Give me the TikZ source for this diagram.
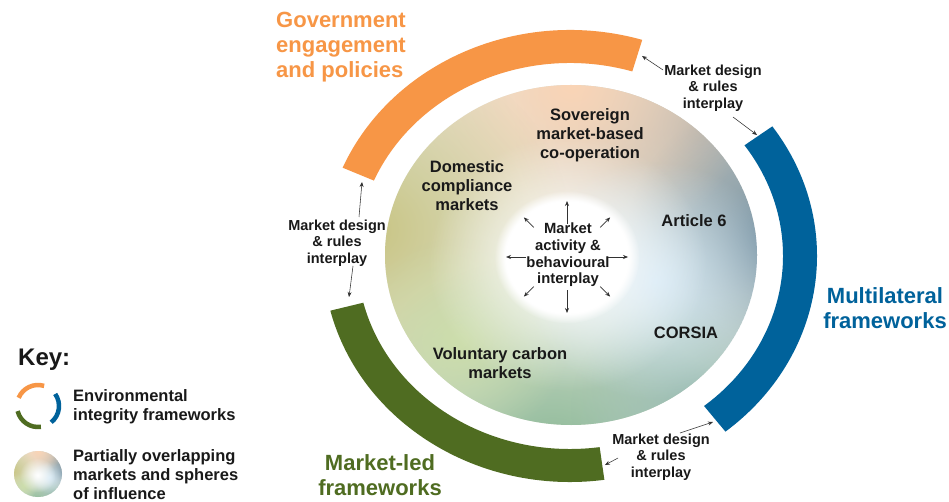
\documentclass[tikz,border=0pt]{standalone}
\usepackage{fontspec}
\setmainfont{Liberation Sans}
\usetikzlibrary{calc,arrows.meta,fadings}
\definecolor{cOr}{RGB}{247,150,70}
\definecolor{cBl}{RGB}{0,98,155}
\definecolor{cGr}{RGB}{79,108,33}
\definecolor{cTx}{RGB}{25,25,25}
\definecolor{cLn}{RGB}{50,50,50}
\definecolor{sBase}{RGB}{225,228,214}
\definecolor{sGrey}{RGB}{178,180,176}
\definecolor{sSlate}{RGB}{110,140,160}
\definecolor{sPeach}{RGB}{250,212,182}
\definecolor{sOlive}{RGB}{200,196,130}
\definecolor{sGreen}{RGB}{138,184,150}
\definecolor{sTeal}{RGB}{150,186,178}
\definecolor{sLGreen}{RGB}{205,222,172}
\definecolor{sLBlue}{RGB}{208,230,244}
\tikzfading[name=softfade, inner color=transparent!0, outer color=transparent!100]
\newcommand{\myblob}[4]{\fill[#4, path fading=softfade] (#1,#2) circle (#3);}
\newcommand{\spherefill}{%
  \fill[sBase] (0,0) circle (1);
  \myblob{0.7}{0.75}{1.0}{sGrey}
  \myblob{1.15}{0.1}{0.85}{sSlate}
  \myblob{0.0}{1.0}{1.0}{sPeach}
  \myblob{-1.1}{0.15}{1.1}{sOlive}
  \myblob{-0.1}{-1.2}{1.2}{sGreen}
  \myblob{0.7}{-0.9}{0.7}{sTeal}
  \myblob{-0.6}{-0.5}{0.6}{sLGreen}
  \myblob{0.45}{-0.15}{0.7}{sLBlue}
  \myblob{-0.02}{-0.05}{0.75}{white}
}
\newcommand{\ringseg}[3]{%
  \fill[#1] ($(RC)+(#2:247 and 226)$) arc[start angle=#2, end angle=#3, x radius=247, y radius=226]
    -- ($(RC)+(#3:213 and 193)$) arc[start angle=#3, end angle=#2, x radius=213, y radius=193] -- cycle;}
\tikzset{
  title/.style={font=\fontsize{22}{25}\selectfont\bfseries, align=center, inner sep=0pt},
  inner/.style={font=\fontsize{16.5}{19}\selectfont\bfseries, text=cTx, align=center, inner sep=0pt},
  lbl/.style={font=\fontsize{14.5}{16.5}\selectfont\bfseries, text=cTx, align=center, inner sep=0pt},
  keytxt/.style={font=\fontsize{16.5}{19}\selectfont\bfseries, text=cTx, align=left, inner sep=0pt, anchor=west},
  conn/.style={draw=cLn, line width=0.55pt, -{Stealth[length=5pt,width=4pt]}},
  carr/.style={draw=cLn, line width=0.7pt, -{Stealth[length=5pt,width=4pt]}}
}
\begin{document}
\begin{tikzpicture}[x=1pt,y=1pt]
\useasboundingbox (0,0) rectangle (949,501);
\fill[white] (0,0) rectangle (949,501);
\coordinate (RC) at (570,245);
% sphere
\begin{scope}[shift={(571,246)}, xscale=186, yscale=170]
  \clip (0,0) circle (1);
  \spherefill
  \fill[white, path fading=circle with fuzzy edge 15 percent] (-0.022,-0.012) circle (0.39);
\end{scope}
% ring
\ringseg{cOr}{73}{157}
\ringseg{cBl}{-51}{35}
\ringseg{cGr}{194}{278}
% arc end targets
\coordinate (oR) at (642,445);
\coordinate (oL) at (362,319);
\coordinate (bT) at (757,366);
\coordinate (bB) at (713,79);
\coordinate (gT) at (349,204);
\coordinate (gR) at (605,36);
% titles
\node[title, text=cOr, align=left] (gov) at (341,454) {Government\\engagement\\and policies};
\node[title, text=cBl] (mul) at (885,193) {Multilateral\\frameworks};
\node[title, text=cGr] (mled) at (380,26) {Market-led\\frameworks};
% inner texts
\node[inner] (sov) at (590,366) {Sovereign\\market-based\\co-operation};
\node[inner] (dom) at (467,315) {Domestic\\compliance\\markets};
\node[inner] (art) at (694,280) {Article 6};
\node[inner] (cor) at (686,168) {CORSIA};
\node[inner] (vol) at (500,137.5) {Voluntary carbon\\markets};
\coordinate (MC) at (567,244);
\node[lbl, font=\fontsize{14.8}{16.7}\selectfont\bfseries] (mkt) at (568,246) {Market\\activity \&\\behavioural\\interplay};
\foreach \a in {90,270} \draw[carr] ($(MC)+(\a:40 and 33)$) -- ($(MC)+(\a:60 and 56)$);
\foreach \a in {0,180} \draw[carr] ($(MC)+(\a:41 and 36)$) -- ($(MC)+(\a:61 and 55)$);
\foreach \a in {45,135,225,315} \draw[carr] ($(MC)+(\a:47 and 42)$) -- ($(MC)+(\a:61 and 56)$);
% connector labels
\node[lbl] (L1) at (713,413) {Market design\\\& rules\\interplay};
\node[lbl] (L2) at (337,258) {Market design\\\& rules\\interplay};
\node[lbl] (L3) at (661,44) {Market design\\\& rules\\interplay};
\draw[conn] ($(L1)+(-50,18)$) -- (oR);
\draw[conn] ($(L1)+(20,-29)$) -- (bT);
\draw[conn] ($(L2)+(22,26)$) -- (oL);
\draw[conn] ($(L2)+(16,-23)$) -- (gT);
\draw[conn] ($(L3)+(19,24)$) -- (bB);
\draw[conn] ($(L3)+(-43,-1)$) -- (gR);
% key
\node[anchor=base west, inner sep=0pt, font=\fontsize{24}{28}\selectfont\bfseries, text=cTx] (key) at (18,136) {Key:};
\coordinate (KC) at (38,95);
\draw[cOr, line width=4.5pt] ($(KC)+(73:21)$) arc[start angle=73, end angle=157, radius=21];
\draw[cBl, line width=4.5pt] ($(KC)+(-51:21)$) arc[start angle=-51, end angle=35, radius=21];
\draw[cGr, line width=4.5pt] ($(KC)+(194:21)$) arc[start angle=194, end angle=278, radius=21];
\node[keytxt] (k1) at (73,94.5) {Environmental\\integrity frameworks};
\begin{scope}[shift={(38,27)}, xscale=24, yscale=23]
  \clip (0,0) circle (1);
  \spherefill
\end{scope}
\node[keytxt] (k2) at (73,26.5) {Partially overlapping\\markets and spheres\\of influence};
\end{tikzpicture}
\end{document}
